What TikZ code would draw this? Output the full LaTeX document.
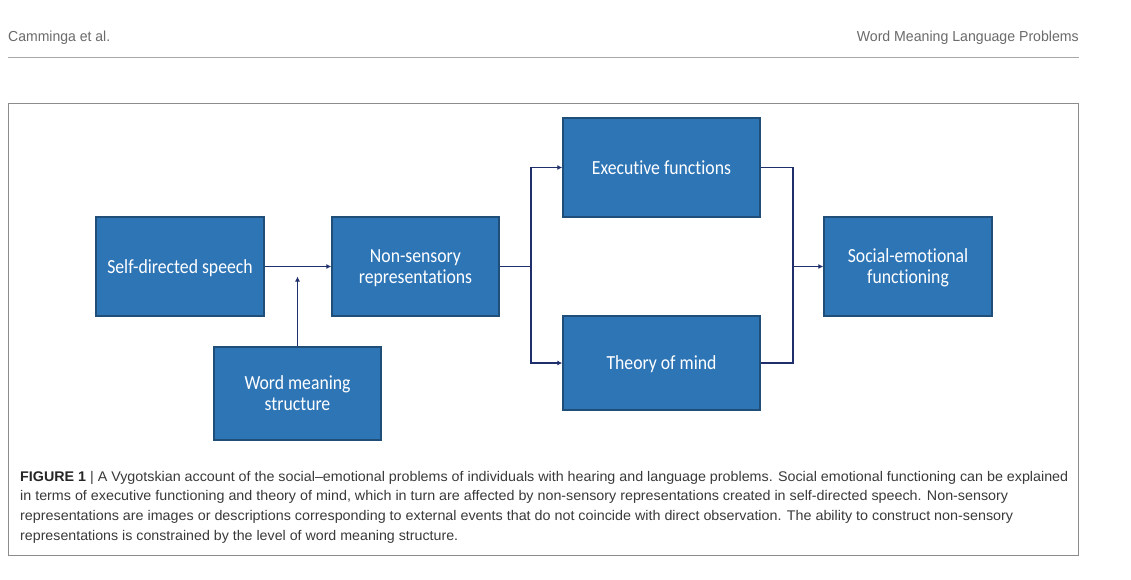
\documentclass[tikz,border=0pt]{standalone}
\usepackage{fontspec}
\usepackage{graphicx}
\usetikzlibrary{arrows.meta}
\newfontfamily\boxfont[FakeStretch=0.885,Ligatures=NoCommon]{Carlito}
\newfontfamily\capfont{Liberation Sans}
\definecolor{boxblue}{HTML}{2E75B6}
\definecolor{boxedge}{HTML}{1F4E79}
\definecolor{connc}{HTML}{1F2F6B}
\definecolor{headgray}{HTML}{6B6B6B}
\definecolor{capgray}{HTML}{3A3A3A}
\definecolor{rulegray}{HTML}{A8A8A8}
\definecolor{framegray}{HTML}{8C8C8C}
\tikzset{
  stagebox/.style={draw=boxedge, fill=boxblue, line width=1.4pt, text=white,
    font=\boxfont\fontsize{20}{21}\selectfont, align=center, inner sep=0pt, text depth=0pt},
  conn/.style={draw=connc, line width=1.8pt},
  arr/.style={conn, -{Latex[length=5pt,width=5pt]}},
  headtext/.style={text=headgray, font=\capfont\fontsize{14.5}{17}\selectfont, inner sep=0pt},
  captext/.style={text=capgray, font=\capfont\fontsize{14}{16}\selectfont, inner sep=0pt, anchor=base west}
}
\begin{document}
\begin{tikzpicture}[x=1pt,y=-1pt]
\useasboundingbox (0,0) rectangle (1131,579);
\fill[white] (0,0) rectangle (1131,579);
% header
\node[headtext, anchor=base west] (hl) at (8,41) {\resizebox{102pt}{\height}{Camminga et al.}};
\node[headtext, anchor=base east] (hr) at (1079,41) {\resizebox{222pt}{\height}{Word Meaning Language Problems}};
\draw[rulegray, line width=1pt] (8,57.5) -- (1079,57.5);
% frame
\draw[framegray, line width=1pt] (8,103.5) rectangle (1078.5,555);
% boxes
\node[stagebox, minimum width=168pt, minimum height=99pt] (self) at (180,266.5) {Self-directed speech};
\node[stagebox, minimum width=167pt, minimum height=99pt] (non) at (415.5,266.5) {Non-sensory\\representations};
\node[stagebox, minimum width=167pt, minimum height=93pt] (word) at (297.5,393.5) {Word meaning\\structure};
\node[stagebox, minimum width=197pt, minimum height=99pt] (exec) at (661.5,167.5) {Executive functions};
\node[stagebox, minimum width=197pt, minimum height=94pt] (tom) at (661.5,363) {Theory of mind};
\node[stagebox, minimum width=168pt, minimum height=99pt] (soc) at (908,266.5) {Social-emotional\\functioning};
% connectors
\coordinate (wtip) at (297.5,276.5);
\coordinate (split) at (531,266.5);
\coordinate (join) at (793,266.5);
\draw[arr] (self.east) -- (non.west);
\draw[arr] (word.north) -- (wtip);
\draw[conn] (non.east) -- (split);
\draw[arr] (split) |- (exec.west);
\draw[arr] (split) |- (tom.west);
\draw[conn] (exec.east) -| (join);
\draw[conn] (tom.east) -| (join);
\draw[arr] (join) -- (soc.west);
% caption
\node[captext] (c1) at (20,481) {\resizebox{1048pt}{\height}{\textbf{\color{black!85}FIGURE 1} | A Vygotskian account of the social–emotional problems of individuals with hearing and language problems. Social emotional functioning can be explained}};
\node[captext] (c2) at (20,500.7) {\resizebox{988pt}{\height}{in terms of executive functioning and theory of mind, which in turn are affected by non-sensory representations created in self-directed speech. Non-sensory}};
\node[captext] (c3) at (20,520.3) {\resizebox{993pt}{\height}{representations are images or descriptions corresponding to external events that do not coincide with direct observation. The ability to construct non-sensory}};
\node[captext] (c4) at (20,540) {\resizebox{438pt}{\height}{representations is constrained by the level of word meaning structure.}};
\end{tikzpicture}
\end{document}
